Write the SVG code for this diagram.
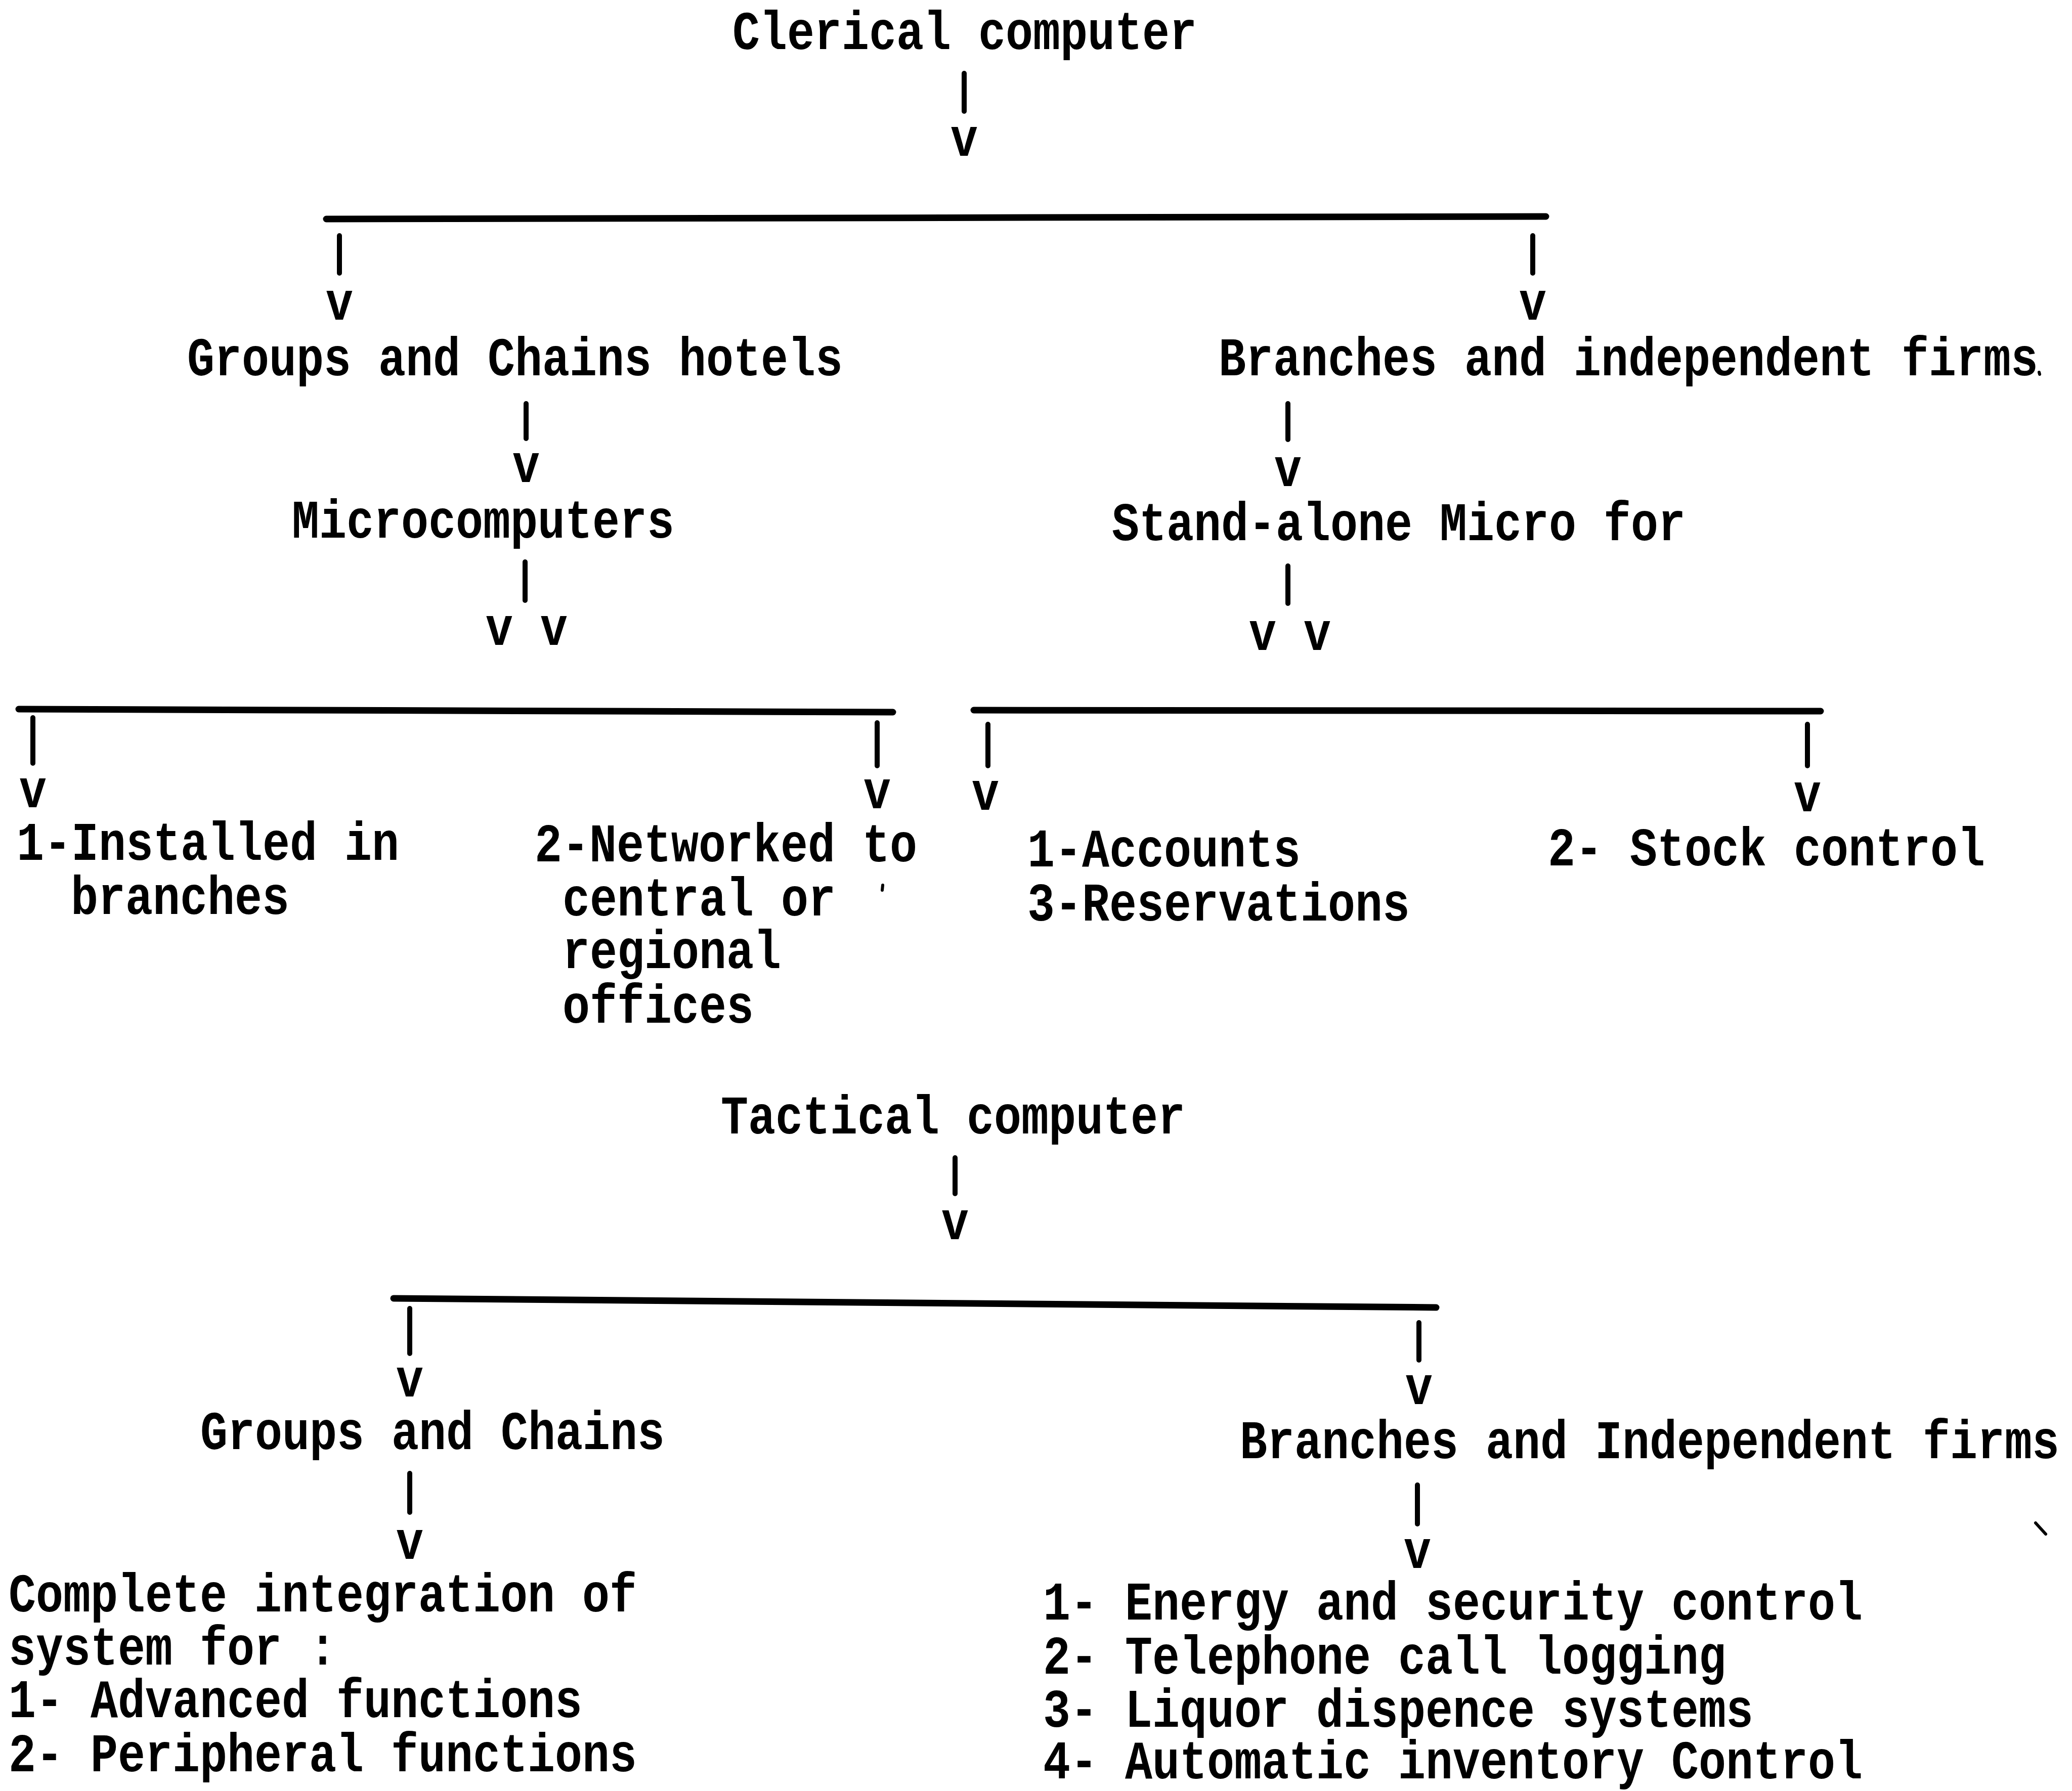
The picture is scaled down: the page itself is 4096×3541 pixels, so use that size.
<svg xmlns="http://www.w3.org/2000/svg" width="4096" height="3541" viewBox="0 0 4096 3541">
  <style>
    text { font-family: "Liberation Mono", "Courier New", monospace; font-weight: bold; font-size: 90px; fill: #000; }
    .mid { text-anchor: middle; }
    .rule { stroke: #000; stroke-width: 13; stroke-linecap: round; fill: none; }
    .bar { stroke: #000; stroke-width: 10; stroke-linecap: round; fill: none; }
    .speck { stroke: #000; stroke-width: 6; stroke-linecap: round; fill: none; }
  </style>
  <rect width="4096" height="3541" fill="#fff"/>

  <!-- connectors: bars, branch rules and typed "v" heads -->
  <g id="connectors">
    <!-- clerical tree -->
    <line class="bar" x1="1906" y1="145" x2="1906" y2="220"/>
    <line class="rule" x1="645" y1="433" x2="3056" y2="428"/>
    <line class="bar" x1="671" y1="466" x2="671" y2="540"/>
    <line class="bar" x1="3030" y1="466" x2="3030" y2="540"/>
    <line class="bar" x1="1040" y1="798" x2="1040" y2="867"/>
    <line class="bar" x1="1038" y1="1111" x2="1038" y2="1187"/>
    <line class="bar" x1="2546" y1="798" x2="2546" y2="869"/>
    <line class="bar" x1="2546" y1="1119" x2="2546" y2="1193"/>
    <line class="rule" x1="37" y1="1402" x2="1765" y2="1408"/>
    <line class="bar" x1="65" y1="1419" x2="65" y2="1509"/>
    <line class="bar" x1="1734" y1="1429" x2="1734" y2="1514"/>
    <line class="rule" x1="1925" y1="1404" x2="3599" y2="1406"/>
    <line class="bar" x1="1953" y1="1432" x2="1953" y2="1514"/>
    <line class="bar" x1="3573" y1="1432" x2="3573" y2="1514"/>
    <!-- tactical tree -->
    <line class="bar" x1="1888" y1="2289" x2="1888" y2="2360"/>
    <line class="rule" x1="778" y1="2567" x2="2839" y2="2585"/>
    <line class="bar" x1="810" y1="2587" x2="810" y2="2676"/>
    <line class="bar" x1="2805" y1="2615" x2="2805" y2="2689"/>
    <line class="bar" x1="810" y1="2913" x2="810" y2="2990"/>
    <line class="bar" x1="2802" y1="2936" x2="2802" y2="3013"/>
    <g transform="scale(1,1.2)">
      <text class="mid" x="1906" y="256.7">v</text>
      <text class="mid" x="671" y="526.7">v</text>
      <text class="mid" x="3030" y="526.7">v</text>
      <text class="mid" x="1040" y="794.2">v</text>
      <text class="mid" x="1041" y="1062.1">v v</text>
      <text class="mid" x="2546" y="800.8">v</text>
      <text class="mid" x="2550" y="1070.8">v v</text>
      <text class="mid" x="65" y="1329.8">v</text>
      <text class="mid" x="1734" y="1331.7">v</text>
      <text class="mid" x="1948" y="1334.2">v</text>
      <text class="mid" x="3573" y="1336.3">v</text>
      <text class="mid" x="1888" y="2041.5">v</text>
      <text class="mid" x="810" y="2300.5">v</text>
      <text class="mid" x="2805" y="2313.3">v</text>
      <text class="mid" x="810" y="2568.2">v</text>
      <text class="mid" x="2802" y="2583.3">v</text>
    </g>
  </g>

  <!-- clerical computer tree -->
  <g id="clerical-computer" transform="scale(1,1.2)">
    <text x="1448" y="80.5">Clerical computer</text>
  </g>
  <g id="groups-chains-hotels" transform="scale(1,1.2)">
    <text x="370" y="618.1">Groups and Chains hotels</text>
  </g>
  <g id="branches-independent-firms" transform="scale(1,1.2)">
    <text x="2409" y="618.1">Branches and independent firms</text>
  </g>
  <g id="microcomputers" transform="scale(1,1.2)">
    <text x="577" y="885.8">Microcomputers</text>
  </g>
  <g id="stand-alone-micro" transform="scale(1,1.2)">
    <text x="2198" y="890">Stand-alone Micro for</text>
  </g>
  <g id="installed-in-branches" transform="scale(1,1.2)">
    <text x="33" y="1416.7">1-Installed in<tspan x="140" y="1505.8">branches</tspan></text>
  </g>
  <g id="networked-offices" transform="scale(1,1.2)">
    <text x="1057" y="1419">2-Networked to<tspan x="1112" y="1508.3">central or</tspan><tspan x="1112" y="1595.3">regional</tspan><tspan x="1112" y="1684.6">offices</tspan></text>
  </g>
  <g id="accounts-reservations" transform="scale(1,1.2)">
    <text x="2031" y="1427.5">1-Accounts<tspan x="2031" y="1516.7">3-Reservations</tspan></text>
  </g>
  <g id="stock-control" transform="scale(1,1.2)">
    <text x="3060" y="1425.6">2- Stock control</text>
  </g>

  <!-- tactical computer tree -->
  <g id="tactical-computer" transform="scale(1,1.2)">
    <text x="1425" y="1867.3">Tactical computer</text>
  </g>
  <g id="groups-chains" transform="scale(1,1.2)">
    <text x="396" y="2387.5">Groups and Chains</text>
  </g>
  <g id="branches-independent-firms-2" transform="scale(1,1.2)">
    <text x="2451" y="2402.8">Branches and Independent firms</text>
  </g>
  <g id="complete-integration" transform="scale(1,1.2)">
    <text x="17" y="2655">Complete integration of<tspan x="17" y="2742.3">system for :</tspan><tspan x="17" y="2829.2">1- Advanced functions</tspan><tspan x="17" y="2918.3">2- Peripheral functions</tspan></text>
  </g>
  <g id="control-systems" transform="scale(1,1.2)">
    <text x="2062" y="2668.3">1- Energy and security control<tspan x="2062" y="2757.5">2- Telephone call logging</tspan><tspan x="2062" y="2844.6">3- Liquor dispence systems</tspan><tspan x="2062" y="2929.6">4- Automatic inventory Control</tspan></text>
  </g>

  <!-- stray typewriter marks -->
  <g id="marks">
    <line class="speck" x1="4031" y1="736" x2="4032" y2="740"/>
    <line class="speck" x1="1745" y1="1750" x2="1744" y2="1760"/>
    <line class="speck" x1="4024" y1="3011" x2="4044" y2="3033"/>
  </g>
</svg>
